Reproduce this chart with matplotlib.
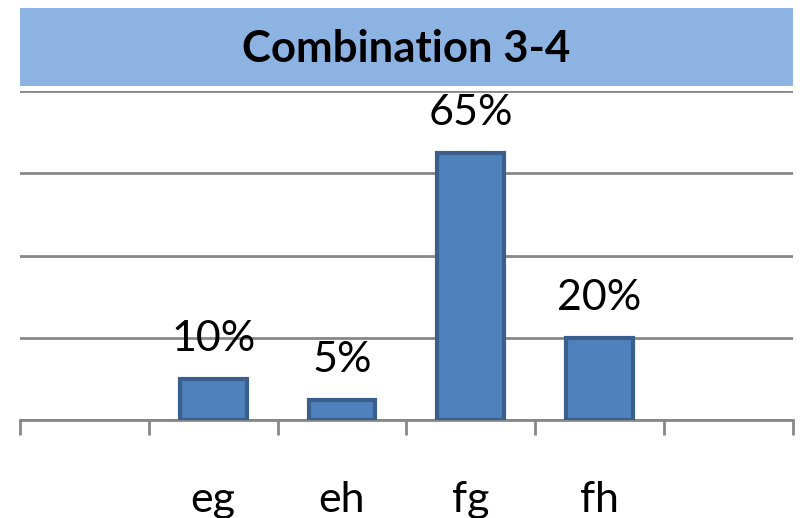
import numpy as np
import matplotlib
matplotlib.use("Agg")
import matplotlib.pyplot as plt
from matplotlib.patches import Rectangle

plt.rcParams['font.family'] = ['Lato', 'DejaVu Sans']

TITLE = "Combination 3-4"
categories = ["eg", "eh", "fg", "fh"]
values = [10, 5, 65, 20]
value_labels = ["10%", "5%", "65%", "20%"]
n_slots = 6          # excel axis has an empty slot on each side
first_slot = 1

y_max = 80
y_step = 20

fig = plt.figure(figsize=(8, 5.18), dpi=100)
ax = fig.add_axes([0.025, 0.189, 0.966, 0.635])

# title banner
fig.patches.append(Rectangle((0.025, 1 - 86 / 518), 0.966, 78 / 518,
                             transform=fig.transFigure, facecolor="#8DB3E2",
                             edgecolor="none", zorder=0))
fig.text(0.025 + 0.966 / 2, 1 - 49 / 518, TITLE, ha="center", va="center",
         fontsize=31.5, fontweight="bold", color="black")

x = np.arange(len(categories)) + first_slot
bars = ax.bar(x, values, width=0.52, color="#4F81BD", edgecolor="#3A5F8C",
              linewidth=3, zorder=3)

for xi, v, lab in zip(x, values, value_labels):
    ax.annotate(lab, (xi, v), xytext=(0, 40), textcoords="offset pixels",
                ha="center", va="center", fontsize=31, color="black")

ax.set_xlim(-0.5, n_slots - 0.5)
ax.set_ylim(0, y_max)
ax.set_yticks(np.arange(0, y_max + 1, y_step))
ax.yaxis.grid(True, color="#878787", linewidth=2)
ax.set_axisbelow(True)
ax.tick_params(axis="y", left=False, labelleft=False)

# boundaries between categories get the tick marks, names sit in the middle
ax.set_xticks(np.arange(n_slots + 1) - 0.5)
ax.set_xticklabels([])
ax.tick_params(axis="x", which="major", direction="out", length=11,
               width=2, color="#878787")
ax.set_xticks(x, minor=True)
ax.set_xticklabels(categories, minor=True)
ax.tick_params(axis="x", which="minor", length=0, pad=44, labelsize=31)

for s in ["top", "left", "right"]:
    ax.spines[s].set_visible(False)
ax.spines["bottom"].set_color("#878787")
ax.spines["bottom"].set_linewidth(2)

fig.savefig("out.png", dpi=100)
